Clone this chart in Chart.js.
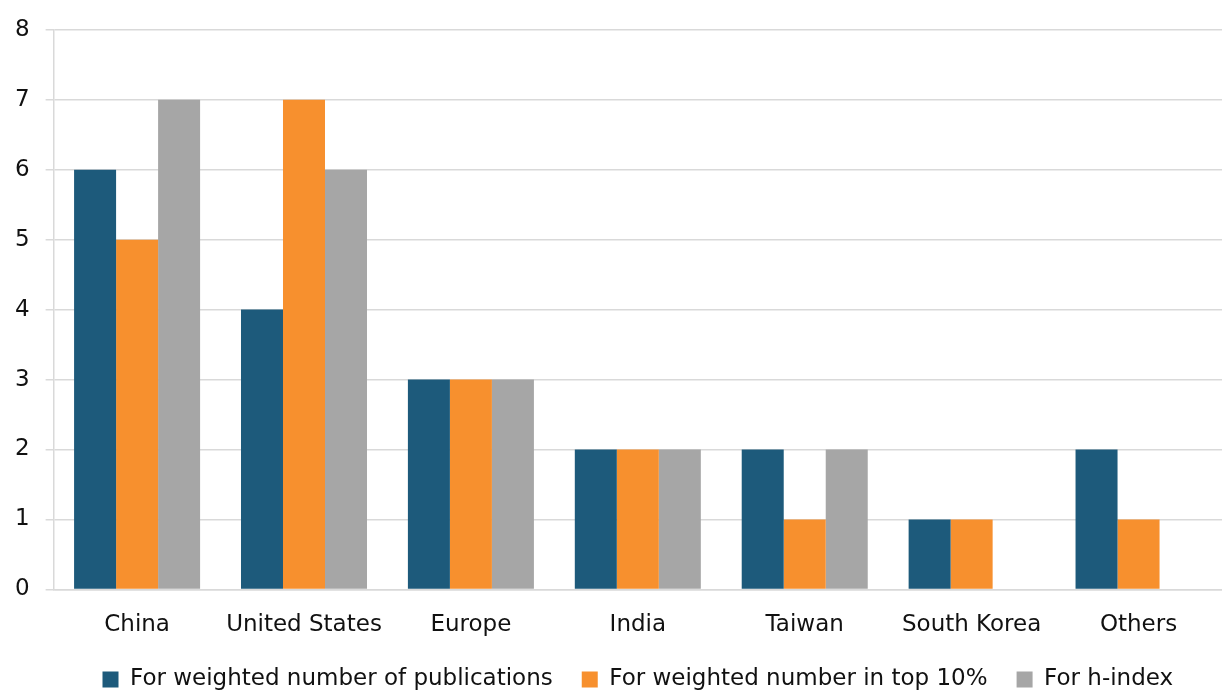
<!DOCTYPE html>
<html>
<head>
<meta charset="utf-8">
<script src="https://cdn.jsdelivr.net/npm/chart.js@4/dist/chart.umd.min.js"></script>
<style>
  html, body { margin: 0; padding: 0; background: #fff; }
  #wrap { width: 1222px; height: 690px; }
</style>
</head>
<body>
<div id="wrap"><canvas id="myChart"></canvas></div>
<script>
const categories = ["China", "United States", "Europe", "India", "Taiwan", "South Korea", "Others"];
const publications = [6, 4, 3, 2, 2, 1, 2];
const top10 = [5, 7, 3, 2, 1, 1, 1];
const hIndex = [7, 6, 3, 2, 2, 0, 0];
const yTicks = [0, 1, 2, 3, 4, 5, 6, 7, 8];

const fontFamily = "'DejaVu Sans', sans-serif";

// centre the legend under the plot area rather than the whole canvas
const legendUnderPlot = {
  id: "legendUnderPlot",
  afterLayout(chart) {
    chart.legend.left = chart.chartArea.left;
  },
};

const ctx = document.getElementById("myChart").getContext("2d");
const myChart = new Chart(ctx, {
  type: "bar",
  data: {
    labels: categories,
    datasets: [
      { label: "For weighted number of publications", data: publications, backgroundColor: "#1d5a7b" },
      { label: "For weighted number in top 10%", data: top10, backgroundColor: "#f7902e" },
      { label: "For h-index", data: hIndex, backgroundColor: "#a6a6a6" },
    ],
  },
  plugins: [legendUnderPlot],
  options: {
    responsive: true,
    maintainAspectRatio: false,
    animation: false,
    layout: { padding: { top: 18, right: 0, left: -1, bottom: -11 } },
    datasets: { bar: { categoryPercentage: 0.755, barPercentage: 1.0 } },
    plugins: {
      tooltip: { enabled: false },
      legend: {
        position: "bottom",
        labels: {
          color: "#111",
          font: { family: fontFamily, size: 23 },
          boxWidth: 16,
          boxHeight: 16,
          padding: 29,
        },
      },
    },
    scales: {
      x: {
        grid: { display: false },
        border: { color: "#d9d9d9", width: 1.5 },
        ticks: { color: "#111", font: { family: fontFamily, size: 23 }, padding: 14 },
        afterFit: (scale) => {
          // tighten the axis box so the labels sit nearer the legend, without clipping them
          scale.height -= 14;
          scale._computeLabelArea = () => undefined;
        },
      },
      y: {
        min: 0,
        max: 8,
        afterBuildTicks: (axis) => { axis.ticks = yTicks.map((v) => ({ value: v })); },
        grid: { color: "#d9d9d9", lineWidth: 1.5, tickLength: 8 },
        border: { color: "#d9d9d9", width: 1.5 },
        ticks: { color: "#111", font: { family: fontFamily, size: 23 }, padding: 16 },
      },
    },
  },
});
</script>
</body>
</html>
